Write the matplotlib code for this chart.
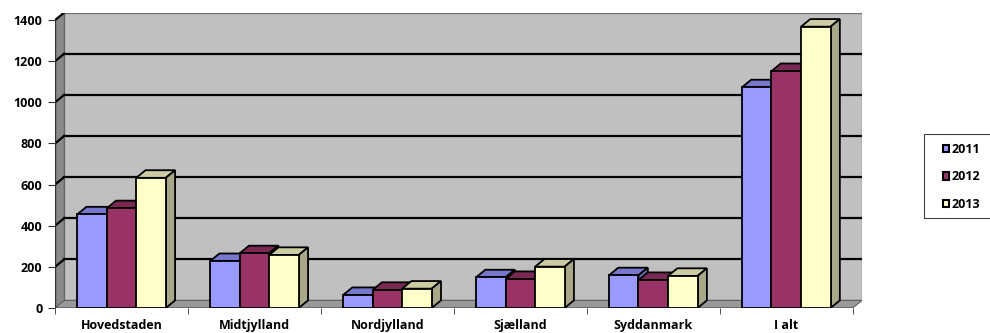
import matplotlib.pyplot as plt
from matplotlib.patches import Polygon, Rectangle

plt.rcParams['font.family'] = ['Open Sans', 'DejaVu Sans']

regions = ['Hovedstaden', 'Midtjylland', 'Nordjylland', 'Sjælland', 'Syddanmark', 'I alt']
years = ['2011', '2012', '2013']
v2011 = [455, 228, 63, 149, 159, 1073]
v2012 = [485, 266, 88, 141, 136, 1152]
v2013 = [633, 258, 94, 201, 156, 1368]
yticks = [0, 200, 400, 600, 800, 1000, 1200, 1400]

front = ['#9999FF', '#993366', '#FFFFCC']
top_c = ['#7777CC', '#7A2952', '#CCCCA3']
side_c = ['#6B6BB3', '#6B2447', '#A8A888']

DX = 0.07    # depth in category units
DY = 37      # depth in value units
n = len(regions)
ymax = 1400

fig = plt.figure(figsize=(9.9, 3.33), dpi=100)
ax = fig.add_axes([55/990, 1-308/333, 807/990, 295.5/333])
ax.set_xlim(0, n + DX)
ax.set_ylim(0, ymax + DY)
for s in ax.spines.values():
    s.set_visible(False)

# walls
ax.add_patch(Rectangle((DX, DY), n, ymax, fc='#C0C0C0', ec='#808080', lw=1, zorder=0))
ax.add_patch(Polygon([(0, 0), (DX, DY), (DX, ymax + DY), (0, ymax)], closed=True,
                     fc='#8A8A8A', ec='#606060', lw=0.8, zorder=0.5))
ax.add_patch(Polygon([(0, 0), (n, 0), (n + DX, DY), (DX, DY)], closed=True,
                     fc='#999999', ec='#606060', lw=0.8, zorder=0.5))
for v in yticks[1:]:
    ax.plot([DX, n + DX], [v + DY, v + DY], color='black', lw=1.6, zorder=1)
    ax.plot([0, DX], [v, v + DY], color='black', lw=1.6, zorder=1)
ax.plot([0, 0], [0, ymax], color='#303030', lw=1, zorder=1)
ax.plot([0, n], [0, 0], color='#303030', lw=1, zorder=1)

# bars
w = 1 / 4.5
series = [v2011, v2012, v2013]
for j, vals in enumerate(series):
    xs = [i + 0.5 + (j - 1) * w for i in range(n)]
    bars = ax.bar(xs, vals, width=w, color=front[j], edgecolor='black', lw=1.3,
                  label=years[j])
    for i, b in enumerate(bars):
        z = 2 + i * 0.1 + j * 0.01
        b.set_zorder(z + 0.005)
        x0, x1, h = b.get_x(), b.get_x() + b.get_width(), b.get_height()
        ax.add_patch(Polygon([(x0, h), (x1, h), (x1 + DX, h + DY), (x0 + DX, h + DY)],
                             closed=True, fc=top_c[j], ec='black', lw=1.3, zorder=z))
        ax.add_patch(Polygon([(x1, 0), (x1 + DX, DY), (x1 + DX, h + DY), (x1, h)],
                             closed=True, fc=side_c[j], ec='black', lw=1.3, zorder=z))

ax.set_yticks(yticks)
ax.set_yticklabels([str(v) for v in yticks], fontsize=9, fontweight='bold')
ax.set_xticks([i + 0.5 for i in range(n)])
ax.set_xticklabels(regions, fontsize=9, fontweight='bold')
ax.set_xticks(range(n + 1), minor=True)
ax.tick_params(axis='x', which='major', length=0, pad=8)
ax.tick_params(axis='x', which='minor', length=4, color='#303030')
ax.tick_params(axis='y', length=5, color='#303030', pad=4)

# legend frame runs off the right edge like the original
fig.patches.append(Rectangle((924/990, 1-218/333), 80/990, 84/333, transform=fig.transFigure,
                             fill=False, ec='#404040', lw=0.8))
handles = [Rectangle((0, 0), 1, 1, fc=c, ec='black', lw=1.5) for c in front]
leg = fig.legend(handles, years, loc='upper left', bbox_to_anchor=(933/990, 1-133/333),
                 prop={'weight': 'bold', 'size': 9}, frameon=False,
                 handlelength=0.5, handleheight=0.5, handletextpad=0.15,
                 labelspacing=1.15, borderpad=0.3)

fig.savefig('out.png', dpi=100)
